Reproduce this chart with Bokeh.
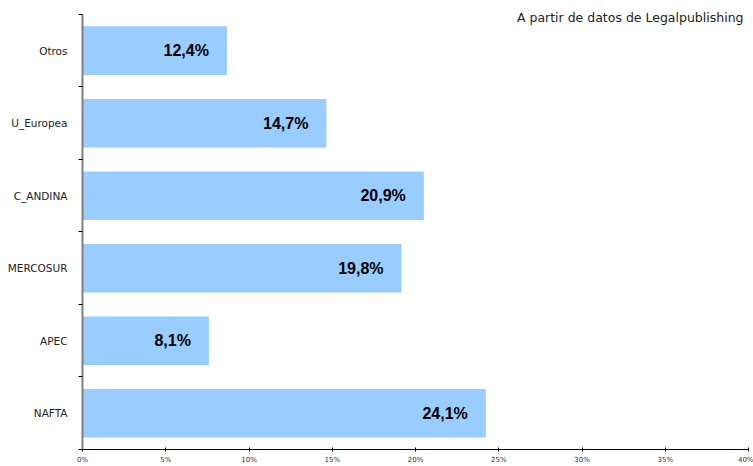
from bokeh.plotting import figure
from bokeh.models import ColumnDataSource, FixedTicker, NumeralTickFormatter, Range1d, Label
from bokeh.embed import file_html
from bokeh.resources import INLINE
from bokeh.core.properties import value

# Data (bottom to top)
categories = ["NAFTA", "APEC", "MERCOSUR", "C_ANDINA", "U_Europea", "Otros"]
bar_values = [0.2422, 0.0759, 0.1916, 0.2050, 0.1465, 0.0867]
bar_labels = ["24,1%", "8,1%", "19,8%", "20,9%", "14,7%", "12,4%"]
x_ticks = [0.0, 0.05, 0.10, 0.15, 0.20, 0.25, 0.30, 0.35, 0.40]
subtitle = "A partir de datos de Legalpublishing"

n = len(categories)
positions = [i + 0.5 for i in range(n)]
source = ColumnDataSource(dict(y=positions, right=bar_values, label=bar_labels))

# frame spans full top so the subtitle is not clipped; 73 px per category band
top_extra = 14 / 73.0

p = figure(width=753, height=466, output_backend="svg", toolbar_location=None,
           x_range=Range1d(0, 0.40), y_range=Range1d(0, n + top_extra),
           min_border_left=82, min_border_right=5, min_border_top=0, min_border_bottom=14)
p.outline_line_color = None
p.grid.visible = False
p.background_fill_color = "white"
p.border_fill_color = "white"

p.hbar(y="y", left=0, right="right", height=0.67, source=source,
       fill_color="#99CCFF", line_color=None)

p.text(x="right", y="y", text="label", source=source, x_offset=-18,
       text_align="right", text_baseline="middle",
       text_font=value("Liberation Sans"), text_font_style="bold",
       text_font_size="16px", text_color="black")

# X axis
xa = p.xaxis[0]
xa.ticker = FixedTicker(ticks=x_ticks)
xa.formatter = NumeralTickFormatter(format="0%")
xa.axis_line_color = "black"
xa.major_tick_in = 2
xa.major_tick_out = 2
xa.major_tick_line_color = "black"
xa.minor_tick_line_color = None
xa.major_label_text_font = "DejaVu Sans"
xa.major_label_text_font_size = "7px"
xa.major_label_text_color = "#333333"
xa.major_label_standoff = 4

# Y axis
ya = p.yaxis[0]
ya.bounds = (0, n)
ya.ticker = FixedTicker(ticks=positions, minor_ticks=list(range(n + 1)))
ya.major_label_overrides = {pos: c for pos, c in zip(positions, categories)}
ya.axis_line_color = "#808080"
ya.axis_line_width = 2
ya.major_tick_in = 0
ya.major_tick_out = 0
ya.minor_tick_in = 0
ya.minor_tick_out = 4
ya.minor_tick_line_color = "black"
ya.major_label_standoff = 11
ya.major_label_text_font = "DejaVu Sans"
ya.major_label_text_font_size = "10.5px"
ya.major_label_text_color = "#222222"
ya.major_label_orientation = "horizontal"

p.add_layout(Label(x=0.40, y=n, x_units="data", y_units="data",
                   x_offset=-5, y_offset=-3, text=subtitle, text_align="right",
                   text_baseline="middle", text_font="DejaVu Sans",
                   text_font_size="12.5px", text_color="#222222"))

open("out.html", "w").write(file_html(p, INLINE))
